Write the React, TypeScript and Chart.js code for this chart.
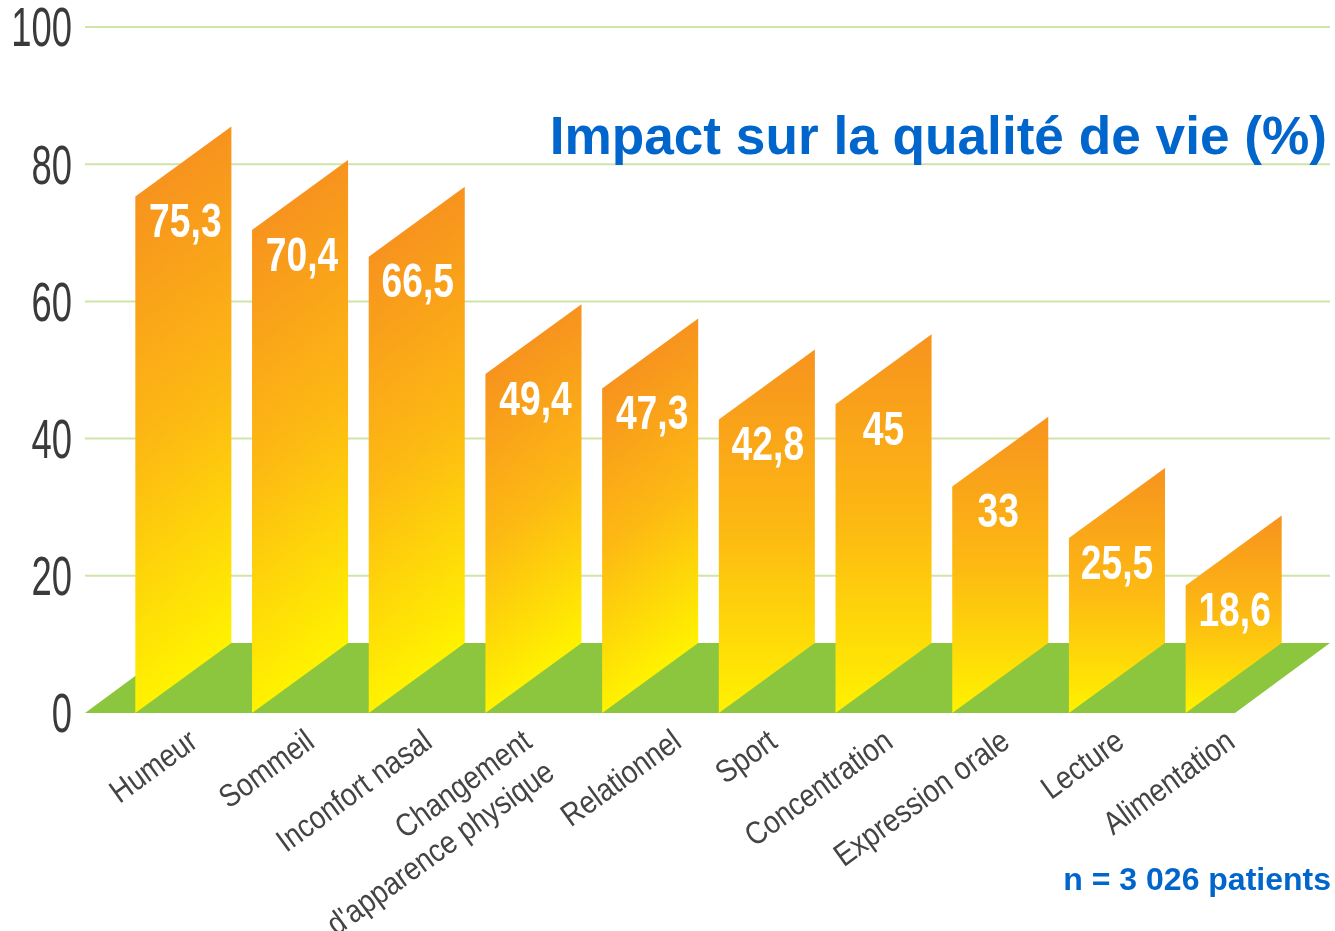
import React, { useEffect, useRef } from "react";
import { Chart, registerables } from "chart.js";

Chart.register(...registerables);

const categories: (string | string[])[] = [
  "Humeur", "Sommeil", "Inconfort nasal", ["Changement", "d'apparence physique"], "Relationnel",
  "Sport", "Concentration", "Expression orale", "Lecture", "Alimentation",
];
const impactValues = [75.3, 70.4, 66.5, 49.4, 47.3, 42.8, 45, 33, 25.5, 18.6];
const valueLabels = ["75,3", "70,4", "66,5", "49,4", "47,3", "42,8", "45", "33", "25,5", "18,6"];
const titleText = "Impact sur la qualité de vie (%)";
const noteText = "n = 3 026 patients";
const labelShift = [11, 11, 12, -5, 28, 7, 6, 6, 4, -2];
const valueShift = [0, 0, -1, 0, 0, -1, -2, -4, -2, -1];
const FLOOR_DEPTH = 10.2;
const SLANTED_FROM = 47;

const FAMILY = '"Liberation Sans", sans-serif';
const BLUE = "#0066CC";
const TICK_SIZE = 56;
const CATEGORY_SIZE = 32;
const VALUE_SIZE = 49;

function squeezeFor(font: string) {
  const m = /^(bold )?(\d+)px/.exec(font);
  if (!m) return 1;
  const size = Number(m[2]);
  if (!m[1] && size === TICK_SIZE) return 0.65;
  if (!m[1] && size === CATEGORY_SIZE) return 0.87;
  if (m[1] && size === VALUE_SIZE) return 0.76;
  return 1;
}

const depthPlugin = {
  id: "depth",
  beforeDraw(chart: any) {
    const { ctx, scales } = chart;
    if (!ctx.__condensed) {
      ctx.__condensed = true;
      const original = ctx.fillText.bind(ctx);
      ctx.fillText = (text: string, px: number, py: number) => {
        const k = squeezeFor(ctx.font);
        if (k === 1) return original(text, px, py);
        ctx.save();
        ctx.translate(px, py);
        ctx.scale(k, 1);
        original(text, 0, 0);
        ctx.restore();
      };
      scales.x.getLabelItems().forEach((item: any, i: number) => {
        item.options.translation[0] += labelShift[i];
      });
      scales.y.getLabelItems().forEach((item: any) => {
        item.options.translation[1] += 4;
      });
    }
  },
  beforeDatasetsDraw(chart: any) {
    const { ctx, scales } = chart;
    const { x, y } = scales;
    ctx.save();
    ctx.strokeStyle = "#CFE5A8";
    ctx.lineWidth = 2;
    y.ticks.forEach((t: any) => {
      if (t.value === 0) return;
      const py = y.getPixelForValue(t.value);
      ctx.beginPath();
      ctx.moveTo(x.left - 40, py);
      ctx.lineTo(x.right + 38, py);
      ctx.stroke();
    });
    const front = y.getPixelForValue(0);
    const back = y.getPixelForValue(FLOOR_DEPTH);
    ctx.fillStyle = "#8CC63F";
    ctx.beginPath();
    ctx.moveTo(x.left - 40, front);
    ctx.lineTo(x.right - 57, front);
    ctx.lineTo(x.right + 38, back);
    ctx.lineTo(x.left + 55, back);
    ctx.closePath();
    ctx.fill();
    ctx.restore();
  },
  afterDatasetsDraw(chart: any) {
    const { ctx, scales } = chart;
    const { y } = scales;
    const rise = y.getPixelForValue(0) - y.getPixelForValue(FLOOR_DEPTH);
    const meta = chart.getDatasetMeta(0);
    ctx.save();
    meta.data.forEach((bar: any, i: number) => {
      const l = bar.x - bar.width / 2;
      const r = bar.x + bar.width / 2;
      const tilt = impactValues[i] >= SLANTED_FROM ? 1 : 0;
      const w = r - l;
      const len = Math.hypot(tilt * rise, w);
      const dx = (tilt * rise) / len;
      const dy = w / len;
      const corners = [[l, bar.y], [r, bar.y - rise], [r, bar.base - rise], [l, bar.base]];
      const proj = corners.map(([cx, cy]) => (cx - l) * dx + (cy - bar.y) * dy);
      const lo = Math.min(...proj);
      const hi = Math.max(...proj);
      const g = ctx.createLinearGradient(l + dx * lo, bar.y + dy * lo, l + dx * hi, bar.y + dy * hi);
      g.addColorStop(0, "#F7931E");
      g.addColorStop(0.5, "#FDB913");
      g.addColorStop(1, "#FFF200");
      ctx.fillStyle = g;
      ctx.beginPath();
      corners.forEach(([cx, cy], k) => (k ? ctx.lineTo(cx, cy) : ctx.moveTo(cx, cy)));
      ctx.closePath();
      ctx.fill();
      ctx.fillStyle = "#FFFFFF";
      ctx.font = `bold ${VALUE_SIZE}px ${FAMILY}`;
      ctx.textAlign = "center";
      ctx.textBaseline = "middle";
      ctx.fillText(valueLabels[i], bar.x + 2 + valueShift[i], bar.y + 27);
    });
    ctx.fillStyle = BLUE;
    ctx.textAlign = "right";
    ctx.textBaseline = "alphabetic";
    ctx.font = `bold 53.2px ${FAMILY}`;
    ctx.fillText(titleText, 1327, 154);
    ctx.font = `bold 32px ${FAMILY}`;
    ctx.fillText(noteText, 1331, 890);
    ctx.restore();
  },
};

export default function App() {
  const ref = useRef<HTMLCanvasElement>(null);
  useEffect(() => {
    const chart = new Chart(ref.current!, {
      type: "bar",
      data: {
        labels: categories as any,
        datasets: [{
          label: "Impact sur la qualité de vie (%)",
          data: impactValues,
          backgroundColor: "rgba(0,0,0,0)",
          borderWidth: 0,
          barPercentage: 0.823,
          categoryPercentage: 1,
        }],
      },
      options: {
        responsive: false,
        animation: false,
        layout: { padding: { top: 27, right: 43, left: 0, bottom: 0 } },
        plugins: { legend: { display: false }, tooltip: { enabled: false } },
        scales: {
          x: {
            grid: { display: false },
            border: { display: false },
            afterFit: (s: any) => { s.height = 218; s.paddingLeft = 0; s.paddingRight = 0; },
            ticks: {
              autoSkip: false,
              minRotation: 36,
              maxRotation: 36,
              padding: 2,
              color: "#444444",
              font: { family: FAMILY, size: CATEGORY_SIZE },
            },
          },
          y: {
            min: 0,
            max: 100,
            grid: { display: false },
            border: { display: false },
            afterFit: (s: any) => { s.width = 125; s.paddingTop = 0; s.paddingBottom = 0; },
            ticks: {
              stepSize: 20,
              padding: 45,
              color: "#3A3A3A",
              font: { family: FAMILY, size: TICK_SIZE },
            },
          },
        },
      },
      plugins: [depthPlugin],
    } as any);
    return () => chart.destroy();
  }, []);
  return (
    <div style={{ position: "fixed", left: 0, top: 0, width: 1335, height: 931, background: "#fff" }}>
      <canvas ref={ref} width={1335} height={931} style={{ display: "block" }} />
    </div>
  );
}
